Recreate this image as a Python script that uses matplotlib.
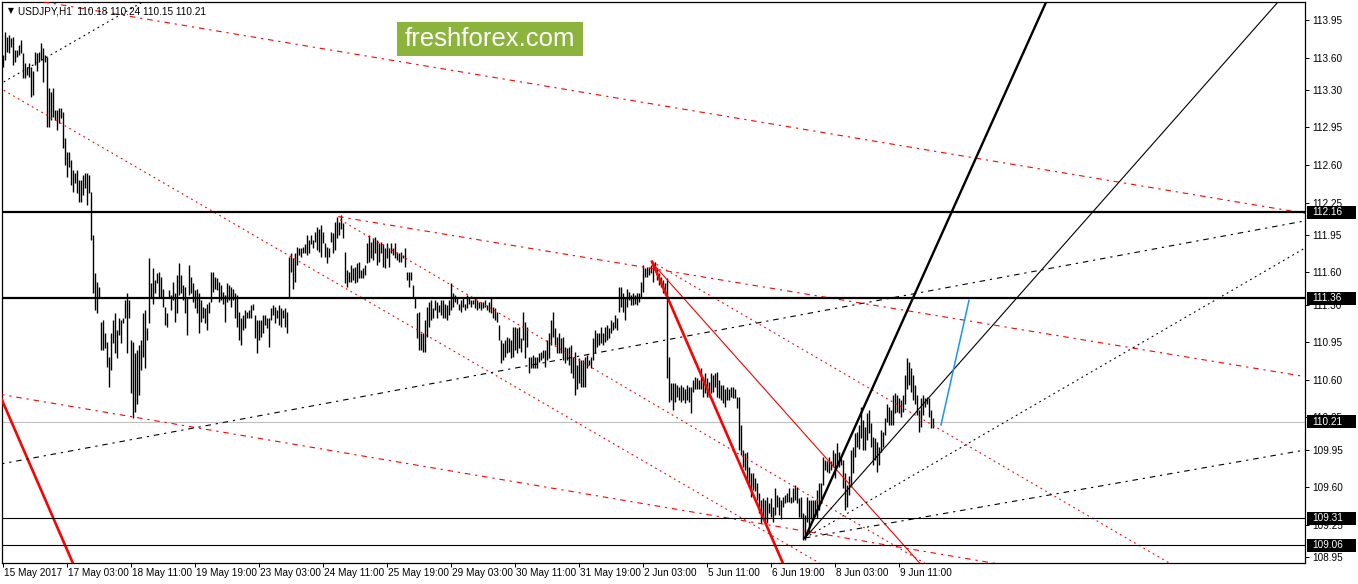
import matplotlib
matplotlib.use("Agg")
import matplotlib.pyplot as plt
import matplotlib.transforms as mtransforms
from matplotlib.patches import Rectangle
import numpy as np

plt.rcParams['font.family'] = ['Liberation Sans', 'DejaVu Sans']
plt.rcParams['lines.scale_dashes'] = False

# ---------------- data: USDJPY H1 bars (high / low) ----------------
HIGH = [
    113.62,113.84,113.79,113.81,113.78,113.79,113.67,113.67,113.72,113.76,
    113.64,113.55,113.51,113.55,113.51,113.48,113.65,113.64,113.65,113.74,
    113.69,113.62,113.61,113.32,113.28,113.32,113.11,113.11,113.13,113.13,
    113.09,112.85,112.72,112.72,112.65,112.55,112.53,112.55,112.46,112.46,
    112.51,112.53,112.53,112.51,112.35,111.95,111.59,111.51,111.46,111.14,
    111.16,111.04,110.95,110.81,111.04,111.16,111.22,111.06,111.18,111.16,
    111.18,111.34,111.41,111.34,110.97,110.95,110.85,110.88,110.92,110.97,
    111.22,111.25,111.08,111.73,111.50,111.64,111.53,111.59,111.60,
    111.56,111.45,111.28,111.22,111.44,111.39,111.51,111.41,111.58,111.69,111.58,
    111.48,111.46,111.37,111.67,111.56,111.50,111.44,111.45,111.41,111.34,
    111.28,111.27,111.31,111.32,111.60,111.60,111.56,111.55,111.51,111.48,
    111.42,111.39,111.50,111.48,111.46,111.45,111.41,111.39,111.23,111.18,
    111.20,111.25,111.23,111.25,111.30,111.31,111.20,111.16,111.16,111.16,
    111.20,111.20,111.18,111.18,111.27,111.30,111.28,111.25,111.30,111.27,
    111.25,111.27,111.23,111.74,111.78,111.73,111.78,111.84,111.83,111.83,
    111.84,111.86,111.95,111.90,111.95,111.90,111.98,112.02,112.00,112.04,111.98,
    111.87,111.84,111.83,111.98,111.97,112.07,112.12,112.07,112.13,112.06,
    111.79,111.62,111.60,111.67,111.64,111.65,111.69,111.70,111.62,111.64,
    111.67,111.87,111.95,111.88,111.92,111.93,111.90,111.87,111.88,111.86,
    111.83,111.87,111.83,111.87,111.83,111.87,111.79,111.78,111.79,111.76,
    111.83,111.60,111.60,111.60,111.48,111.37,111.22,111.23,111.04,111.04,
    111.16,111.28,111.32,111.34,111.27,111.34,111.32,111.30,111.34,111.34,
    111.31,111.30,111.34,111.50,111.41,111.39,111.37,111.31,111.34,111.36,
    111.31,111.39,111.37,111.34,111.34,111.36,111.34,111.32,111.32,111.32,
    111.34,111.30,111.32,111.36,111.28,111.27,111.23,111.11,110.97,110.94,
    110.97,111.00,110.99,110.97,111.09,111.09,111.08,111.09,110.99,111.23,
    111.14,111.09,110.81,110.81,110.83,110.81,110.81,110.85,110.86,110.88,
    110.88,110.97,111.04,111.16,111.23,111.08,111.00,111.04,110.99,111.00,
    110.91,110.90,110.91,110.92,110.81,110.86,110.74,110.80,110.78,110.78,
    110.81,110.83,110.78,110.81,110.99,111.06,111.04,111.04,111.09,111.04,
    111.09,111.11,111.08,111.16,111.14,111.20,111.18,111.46,111.46,111.41,
    111.37,111.45,111.42,111.39,111.41,111.39,111.41,111.41,111.51,111.67,
    111.64,111.65,111.65,111.67,111.70,111.70,
    111.64,111.59,111.56,111.53,111.50,111.55,110.81,110.57,110.57,110.57,
    110.55,110.53,110.55,110.53,110.51,110.55,110.53,110.53,110.60,110.63,
    110.62,110.60,110.71,110.63,110.66,110.62,110.58,110.66,110.64,110.66,
    110.67,110.60,110.55,110.55,110.51,110.53,110.51,110.53,110.53,110.51,110.44,110.44,
    110.18,109.95,109.92,109.93,109.79,109.73,109.73,109.69,109.64,109.55,
    109.48,109.50,109.48,109.51,109.45,109.50,109.42,109.59,109.53,109.51,
    109.48,109.51,109.53,109.55,109.59,109.51,109.59,109.62,109.60,109.50,109.51,
    109.36,109.34,109.51,109.48,109.48,109.48,109.48,109.57,109.64,109.64,
    109.88,109.85,109.84,109.88,109.84,109.95,109.92,110.01,109.93,109.87,
    109.85,109.73,109.62,109.70,109.95,109.97,110.10,110.11,110.18,110.35,
    110.23,110.16,110.29,110.32,110.20,110.07,110.06,110.02,109.97,110.13,
    110.11,110.24,110.37,110.35,110.32,110.46,110.48,110.46,110.43,110.41,
    110.46,110.64,110.80,110.77,110.71,110.64,110.55,110.46,110.32,110.43,
    110.46,110.43,110.44,110.43,110.32,110.24,
]
LOW = [
    113.51,113.58,113.65,113.64,113.70,113.53,113.56,113.61,113.62,113.64,
    113.41,113.41,113.44,113.42,113.23,113.25,113.53,113.48,113.56,113.58,
    113.37,113.56,112.95,112.95,113.02,113.05,113.02,112.93,112.99,113.04,
    112.76,112.60,112.49,112.58,112.41,112.35,112.43,112.34,112.26,112.26,
    112.32,112.39,112.23,112.34,111.90,111.41,111.25,111.22,111.37,110.88,
    110.88,110.90,110.72,110.53,110.69,110.94,110.85,110.80,111.02,110.94,
    111.13,111.18,110.85,111.18,110.48,110.24,110.30,110.37,110.46,110.69,
    110.81,110.71,110.97,111.13,111.37,111.31,111.41,111.50,111.37,
    111.37,111.28,111.11,111.09,111.37,111.25,111.34,111.14,111.22,111.39,111.41,
    111.34,111.22,111.02,111.39,111.41,111.32,111.27,111.22,111.04,111.14,
    111.18,111.13,111.06,111.22,111.32,111.42,111.45,111.44,111.32,111.34,
    111.31,111.14,111.32,111.34,111.28,111.34,111.18,111.09,110.97,110.92,
    111.06,111.08,111.18,111.18,111.18,111.25,110.99,110.85,110.97,111.00,
    111.04,111.11,111.08,110.91,111.16,111.20,111.13,111.18,111.11,111.09,
    111.18,111.09,111.04,111.36,111.60,111.45,111.51,111.67,111.76,111.74,
    111.78,111.78,111.76,111.78,111.86,111.83,111.88,111.81,111.79,111.74,111.87,
    111.74,111.69,111.74,111.88,111.78,111.81,111.92,111.95,112.00,111.92,
    111.50,111.46,111.51,111.51,111.53,111.50,111.51,111.55,111.55,111.55,
    111.58,111.69,111.70,111.73,111.72,111.78,111.67,111.70,111.78,111.65,
    111.64,111.73,111.65,111.78,111.76,111.73,111.72,111.70,111.70,111.73,
    111.65,111.53,111.46,111.53,111.37,111.27,110.99,110.88,110.88,110.86,
    110.86,111.00,111.09,111.16,111.18,111.25,111.18,111.23,111.20,111.18,
    111.18,111.16,111.20,111.25,111.28,111.32,111.31,111.25,111.23,111.28,
    111.25,111.27,111.31,111.28,111.31,111.27,111.25,111.27,111.25,111.27,
    111.28,111.25,111.23,111.22,111.18,111.16,111.14,110.97,110.76,110.78,
    110.81,110.85,110.86,110.80,110.81,110.88,110.85,110.90,110.86,110.97,
    110.80,110.91,110.66,110.71,110.71,110.71,110.71,110.77,110.78,110.80,
    110.72,110.78,110.80,110.92,111.00,110.92,110.85,110.85,110.85,110.78,
    110.76,110.78,110.74,110.66,110.62,110.46,110.51,110.57,110.53,110.53,
    110.53,110.71,110.74,110.71,110.78,110.85,110.91,110.92,110.94,110.92,
    110.95,110.97,110.99,111.04,111.06,111.08,111.06,111.23,111.28,111.23,
    111.16,111.28,111.34,111.30,111.30,111.31,111.30,111.32,111.37,111.42,
    111.56,111.56,111.58,111.59,111.51,111.62,
    111.53,111.48,111.46,111.41,111.39,110.62,110.39,110.41,110.32,110.39,
    110.44,110.41,110.39,110.41,110.38,110.41,110.39,110.29,110.49,110.51,
    110.51,110.51,110.51,110.44,110.48,110.44,110.44,110.48,110.49,110.53,
    110.44,110.43,110.41,110.38,110.35,110.41,110.41,110.44,110.43,110.43,110.34,109.95,
    109.90,109.79,109.76,109.64,109.60,109.51,109.57,109.56,109.48,109.36,
    109.27,109.32,109.27,109.27,109.36,109.32,109.28,109.34,109.42,109.34,
    109.30,109.42,109.45,109.46,109.46,109.45,109.46,109.48,109.45,109.32,109.31,
    109.11,109.11,109.28,109.17,109.30,109.30,109.36,109.31,109.39,109.45,
    109.62,109.76,109.74,109.73,109.76,109.79,109.69,109.82,109.79,109.81,
    109.59,109.39,109.42,109.53,109.60,109.73,109.88,109.97,109.96,110.06,
    109.95,109.95,110.04,110.10,109.97,109.81,109.85,109.74,109.81,109.93,
    109.97,110.09,110.21,110.18,110.18,110.18,110.29,110.30,110.29,110.25,
    110.30,110.37,110.51,110.55,110.49,110.41,110.37,110.27,110.11,110.16,
    110.27,110.35,110.37,110.25,110.15,110.15,
]

Y_TICKS = [113.95, 113.60, 113.30, 112.95, 112.60, 112.25, 111.95, 111.60,
           111.30, 110.95, 110.60, 110.25, 109.95, 109.60, 109.25, 108.95]
X_TICK_BARS = [0, 32, 64, 96, 128, 160, 192, 224, 256, 288, 320, 352, 384, 416, 448]
X_TICK_LABELS = ["15 May 2017", "17 May 03:00", "18 May 11:00", "19 May 19:00",
                 "23 May 03:00", "24 May 11:00", "25 May 19:00", "29 May 03:00",
                 "30 May 11:00", "31 May 19:00", "2 Jun 03:00", "5 Jun 11:00",
                 "6 Jun 19:00", "8 Jun 03:00", "9 Jun 11:00"]
THICK_LEVELS = [112.16, 111.36]
THIN_LEVELS = [109.31, 109.06]
BID = 110.21
TAG_LEVELS = [112.16, 111.36, 110.21, 109.31, 109.06]
HEADER = "USDJPY,H1  110.18 110.24 110.15 110.21"

# trend lines: (bar1, price1, bar2, price2)
RED_DASHDOT_FULL = [(13.4, 114.14, 650.9, 112.15), (-0.15, 110.46, 495.9, 108.89)]
RED_DASHDOT_RAY = [(167.4, 112.12, 650.9, 110.63)]
RED_DOT_FULL = [(-0.15, 113.30, 408.4, 108.89)]
RED_DOT_RAY = [(168.4, 112.09, 460.9, 108.89), (324.35, 111.70, 583.35, 108.89)]
RED_THIN_RAY = [(324.35, 111.69, 458.35, 108.89)]
RED_THICK_RAY = [(324.35, 111.70, 389.85, 108.89)]
RED_THICK_FULL = [(-0.15, 110.39, 34.85, 108.89)]
BLK_THICK_RAY = [(400.85, 109.127, 521.85, 114.136)]
BLK_THIN_RAY = [(400.85, 109.127, 637.35, 114.118)]
BLK_DOT_RAY = [(400.85, 109.127, 650.85, 111.827)]
BLK_DOT_FULL = [(-0.15, 113.37, 69.85, 114.12)]
BLK_DASHDOT_RAY = [(400.85, 109.127, 650.85, 109.946)]
BLK_DASHDOT_FULL = [(-0.15, 109.82, 650.85, 112.08)]
BLUE_SEG = [(468.85, 110.18, 482.85, 111.34)]

# ---------------- figure ----------------
W, H = 1358, 584
fig = plt.figure(figsize=(W / 100, H / 100), dpi=100)
fig.patch.set_facecolor('white')
ax = fig.add_axes([2 / W, 21 / H, 1303 / W, 561 / H])
XMIN, XMAX = -0.65, 650.85
YMIN, YMAX = 108.894, 114.118
ax.set_xlim(XMIN, XMAX)
ax.set_ylim(YMIN, YMAX)

n = min(len(HIGH), len(LOW))
idx = np.arange(n)
ax.vlines(idx, LOW[:n], HIGH[:n], color='black', lw=1.0, zorder=2)

DASHDOT = (0, (4.0, 3.5, 1.6, 3.5))
DOT = (0, (1.3, 2.6))


def draw(lines, mode, **kw):
    for b1, p1, b2, p2 in lines:
        s = (p2 - p1) / (b2 - b1)
        if mode == 'full':
            xs = np.array([XMIN - 5, XMAX + 5])
        elif mode == 'ray':
            xs = np.array([b1, XMAX + 5])
        else:
            xs = np.array([b1, b2])
        ax.plot(xs, p1 + s * (xs - b1), **kw)


draw(RED_DASHDOT_FULL, 'full', color='red', lw=0.8, ls=DASHDOT, zorder=3)
draw(RED_DASHDOT_RAY, 'ray', color='red', lw=0.8, ls=DASHDOT, zorder=3)
draw(RED_DOT_FULL, 'full', color='red', lw=0.8, ls=DOT, zorder=3)
draw(RED_DOT_RAY, 'ray', color='red', lw=0.8, ls=DOT, zorder=3)
draw(RED_THIN_RAY, 'ray', color='red', lw=0.8, zorder=3)
draw(RED_THICK_RAY, 'ray', color='red', lw=1.9, zorder=3)
draw(RED_THICK_FULL, 'full', color='red', lw=1.9, zorder=3)
draw(BLK_THICK_RAY, 'ray', color='black', lw=1.7, zorder=3)
draw(BLK_THIN_RAY, 'ray', color='black', lw=0.8, zorder=3)
draw(BLK_DOT_RAY, 'ray', color='black', lw=0.8, ls=DOT, zorder=3)
draw(BLK_DOT_FULL, 'full', color='black', lw=0.8, ls=DOT, zorder=3)
draw(BLK_DASHDOT_RAY, 'ray', color='black', lw=0.8, ls=DASHDOT, zorder=3)
draw(BLK_DASHDOT_FULL, 'full', color='black', lw=0.8, ls=DASHDOT, zorder=3)
draw(BLUE_SEG, 'seg', color='#1E90FF', lw=1.1, zorder=3)

for lv in THICK_LEVELS:
    ax.axhline(lv, color='black', lw=1.6, zorder=3)
for lv in THIN_LEVELS:
    ax.axhline(lv, color='black', lw=0.8, zorder=3)
ax.axhline(BID, color='#C0C0C0', lw=0.8, zorder=1)

for sp in ax.spines.values():
    sp.set_color('black')
    sp.set_linewidth(0.9)

ax.yaxis.tick_right()
ax.set_yticks(Y_TICKS)
ax.set_yticklabels(["%.2f" % v for v in Y_TICKS])
ax.tick_params(axis='y', direction='out', length=3, width=0.7, pad=2,
               labelsize=7.2, colors='black')
ax.set_xticks(X_TICK_BARS)
ax.set_xticklabels([])
ax.tick_params(axis='x', direction='out', length=3, width=0.7)

bt = mtransforms.blended_transform_factory(ax.transData, ax.transAxes)
for b, lab in zip(X_TICK_BARS, X_TICK_LABELS):
    ax.text(b + 0.6, -0.0185, lab, transform=bt, ha='left', va='center',
            fontsize=7.2, color='black', clip_on=False)

rt = mtransforms.blended_transform_factory(ax.transAxes, ax.transData)
box_h = 13 / 107.4
for lv in TAG_LEVELS:
    ax.add_patch(Rectangle((1.0015, lv - box_h / 2), 49 / 1303, box_h,
                           transform=rt, facecolor='black', edgecolor='none',
                           clip_on=False, zorder=10))
    ax.text(1.0055, lv, "%.2f" % lv, transform=rt, ha='left', va='center',
            fontsize=7.2, color='white', clip_on=False, zorder=11)

# header
fig.text(8 / W, 1 - 11 / H, "\u25BC", fontsize=5.5, ha='left', va='center',
         color='black', family=['DejaVu Sans'])
fig.text(18 / W, 1 - 11 / H, HEADER, fontsize=7.2, ha='left', va='center',
         color='black')

# watermark
fig.patches.append(Rectangle((397 / W, 1 - 56 / H), 186 / W, 34 / H,
                             transform=fig.transFigure, facecolor='#8CB43C',
                             edgecolor='none', zorder=20))
fig.text(490 / W, 1 - 39.5 / H, "freshforex.com", fontsize=18.5, color='white',
         ha='center', va='center', zorder=21)

fig.savefig('out.png', dpi=100)
